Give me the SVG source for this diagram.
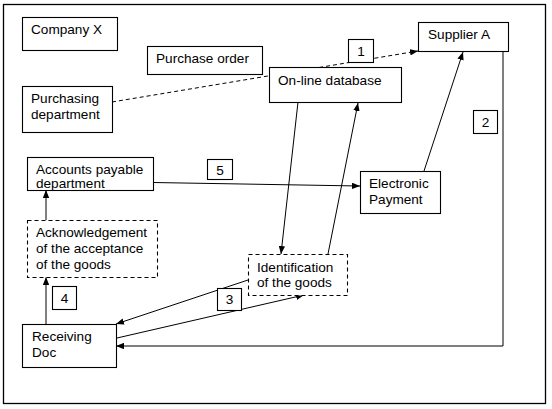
<svg xmlns="http://www.w3.org/2000/svg" width="552" height="409" viewBox="0 0 552 409">
<defs>
<style>
.box{fill:#fff;stroke:#000;stroke-width:1.1}
.dbox{fill:#fff;stroke:#000;stroke-width:1.1;stroke-dasharray:4 3}
.t{font-family:"Liberation Sans",Arial,sans-serif;font-size:13.6px;fill:#000}
.n{font-family:"Liberation Sans",Arial,sans-serif;font-size:13.6px;fill:#000;text-anchor:middle}
.ln{fill:none;stroke:#000;stroke-width:1}
.dl{fill:none;stroke:#000;stroke-width:1;stroke-dasharray:4 3}
</style>
<marker id="ah" viewBox="0 0 10 8" refX="10" refY="4" markerWidth="8" markerHeight="6.4" markerUnits="userSpaceOnUse" orient="auto">
<path d="M0,0 L10,4 L0,8 z" fill="#000"/>
</marker>
</defs>
<rect x="0" y="0" width="552" height="409" fill="#fff"/>
<rect x="3.5" y="4.5" width="542" height="399" fill="none" stroke="#000" stroke-width="1.3"/>

<g id="connectors">
<path class="dl" d="M112,102 L418,51" marker-end="url(#ah)"/>
<path class="ln" d="M503,51 L503,346 L116,346" marker-end="url(#ah)"/>
<path class="ln" d="M424,171 L463,52" marker-end="url(#ah)"/>
<path class="ln" d="M153,182.5 L360,186" marker-end="url(#ah)"/>
<path class="ln" d="M298,102 L281,254" marker-end="url(#ah)"/>
<path class="ln" d="M328,254 L358,103" marker-end="url(#ah)"/>
<path class="ln" d="M248,280 L116,324" marker-end="url(#ah)"/>
<path class="ln" d="M117,338 L304,295" marker-end="url(#ah)"/>
<path class="ln" d="M46,324 L46,277" marker-end="url(#ah)"/>
<path class="ln" d="M46,220 L46,190" marker-end="url(#ah)"/>
</g>

<g id="company-x">
<rect class="box" x="22.5" y="17.5" width="95" height="33"/>
<text class="t" x="31" y="34">Company X</text>
</g>
<g id="purchase-order">
<rect class="box" x="147.5" y="46.5" width="115" height="28"/>
<text class="t" x="156" y="63">Purchase order</text>
</g>
<g id="purchasing-department">
<rect class="box" x="22.5" y="86.5" width="90" height="46"/>
<text class="t" x="31" y="103">Purchasing</text>
<text class="t" x="31" y="119">department</text>
</g>
<g id="online-database">
<rect class="box" x="269.5" y="67.5" width="132" height="35"/>
<text class="t" x="278" y="85">On-line database</text>
</g>
<g id="supplier-a">
<rect class="box" x="418.5" y="22.5" width="90" height="29"/>
<text class="t" x="428" y="39">Supplier A</text>
</g>
<g id="label-1">
<rect class="box" x="348.5" y="39.5" width="25" height="23"/>
<text class="n" x="361" y="56">1</text>
</g>
<g id="label-2">
<rect class="box" x="473.5" y="110.5" width="24" height="23"/>
<text class="n" x="485.5" y="127">2</text>
</g>
<g id="accounts-payable">
<rect class="box" x="27.5" y="157.5" width="126" height="33"/>
<text class="t" x="36" y="174">Accounts payable</text>
<text class="t" x="36" y="188">department</text>
</g>
<g id="label-5">
<rect class="box" x="207.5" y="159.5" width="25" height="20"/>
<text class="n" x="220" y="175">5</text>
</g>
<g id="electronic-payment">
<rect class="box" x="360.5" y="171.5" width="80" height="42"/>
<text class="t" x="369" y="188">Electronic</text>
<text class="t" x="369" y="204">Payment</text>
</g>
<g id="acknowledgement">
<rect class="dbox" x="27.5" y="220.5" width="130" height="57"/>
<text class="t" x="36" y="237">Acknowledgement</text>
<text class="t" x="36" y="253">of the acceptance</text>
<text class="t" x="36" y="269">of the goods</text>
</g>
<g id="identification">
<rect class="dbox" x="248.5" y="254.5" width="99" height="41"/>
<text class="t" x="257" y="272">Identification</text>
<text class="t" x="257" y="287">of the goods</text>
</g>
<g id="label-4">
<rect class="box" x="52.5" y="286.5" width="24" height="23"/>
<text class="n" x="64.5" y="303">4</text>
</g>
<g id="label-3">
<rect class="box" x="217.5" y="288.5" width="24" height="22"/>
<text class="n" x="229.5" y="304">3</text>
</g>
<g id="receiving-doc">
<rect class="box" x="22.5" y="324.5" width="94" height="43"/>
<text class="t" x="32" y="341">Receiving</text>
<text class="t" x="32" y="357">Doc</text>
</g>
</svg>
